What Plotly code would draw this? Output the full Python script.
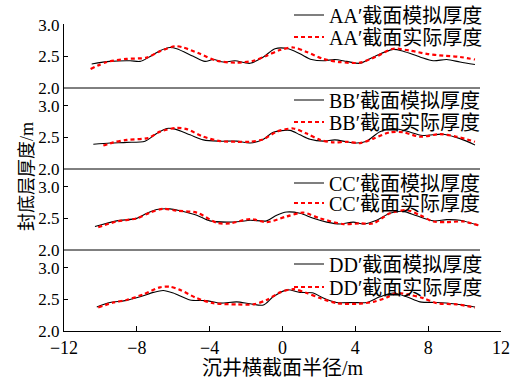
import plotly.graph_objects as go

# ---------------- data ----------------
sections = ["AA", "BB", "CC", "DD"]

x_sim_AA = [-10.48, -9.47, -8.37, -7.82, -7.37, -6.73, -6.18, -5.81, -4.90, -4.26, -3.80, -3.25, -2.61, -1.78,
            -1.05, -0.41, 0.32, 0.96, 1.60, 2.24, 2.88, 3.53, 4.26, 4.99, 6.08, 6.63, 7.55, 8.28, 9.02, 9.75, 10.57]
y_sim_AA = [2.38, 2.42, 2.43, 2.42, 2.48, 2.59, 2.64, 2.62, 2.50, 2.42, 2.45, 2.41, 2.43, 2.39,
            2.49, 2.62, 2.62, 2.54, 2.45, 2.43, 2.45, 2.42, 2.39, 2.49, 2.61, 2.58, 2.49, 2.43, 2.45, 2.41, 2.37]
x_act_AA = [-10.54, -9.65, -8.56, -7.46, -6.73, -5.90, -5.45, -4.53, -3.61, -2.52, -1.60, -0.87, -0.14, 0.59,
            1.33, 2.24, 3.16, 4.26, 5.17, 6.08, 7.00, 7.92, 8.83, 9.75, 10.57]
y_act_AA = [2.30, 2.41, 2.46, 2.48, 2.58, 2.66, 2.64, 2.54, 2.43, 2.40, 2.43, 2.51, 2.60, 2.64,
            2.57, 2.46, 2.41, 2.40, 2.50, 2.62, 2.59, 2.54, 2.51, 2.49, 2.45]

x_sim_BB = [-10.39, -9.47, -8.56, -7.55, -6.91, -6.36, -5.90, -5.08, -4.35, -3.43, -2.52, -1.78, -1.05, -0.51,
            0.41, 0.96, 1.51, 2.24, 2.88, 3.53, 4.07, 4.62, 5.35, 6.08, 6.79, 7.70, 8.83, 9.75, 10.57]
y_sim_BB = [2.39, 2.41, 2.42, 2.44, 2.56, 2.64, 2.63, 2.54, 2.46, 2.44, 2.44, 2.41, 2.47, 2.58,
            2.61, 2.54, 2.47, 2.44, 2.46, 2.43, 2.41, 2.44, 2.59, 2.64, 2.60, 2.53, 2.55, 2.48, 2.38]
x_act_BB = [-9.84, -9.29, -8.56, -7.37, -6.73, -5.81, -5.26, -4.35, -3.43, -2.52, -1.78, -1.05, -0.32, 0.59,
            1.33, 2.06, 2.79, 3.53, 4.26, 4.99, 5.90, 6.63, 7.55, 8.65, 9.57, 10.57]
y_act_BB = [2.37, 2.42, 2.46, 2.49, 2.59, 2.65, 2.63, 2.51, 2.44, 2.43, 2.43, 2.47, 2.59, 2.64,
            2.56, 2.46, 2.42, 2.43, 2.41, 2.48, 2.58, 2.58, 2.51, 2.55, 2.51, 2.43]

x_sim_CC = [-10.30, -9.11, -8.01, -7.46, -6.91, -6.18, -5.63, -4.71, -3.98, -3.07, -2.33, -1.78, -0.87, -0.32,
            0.23, 0.96, 1.69, 2.43, 3.16, 3.89, 4.44, 5.17, 5.90, 6.63, 7.37, 8.28, 9.02, 9.75, 10.75]
y_sim_CC = [2.37, 2.46, 2.50, 2.58, 2.64, 2.65, 2.62, 2.55, 2.46, 2.44, 2.45, 2.47, 2.46, 2.55,
            2.60, 2.58, 2.50, 2.44, 2.41, 2.44, 2.41, 2.47, 2.58, 2.61, 2.54, 2.46, 2.48, 2.47, 2.39]
x_act_CC = [-10.12, -9.11, -8.01, -7.28, -6.55, -5.81, -4.71, -3.61, -2.88, -1.78, -0.87, 0.23, 1.14, 2.06,
            3.34, 4.26, 4.99, 5.90, 6.82, 7.55, 8.28, 9.02, 9.93, 10.75]
y_act_CC = [2.36, 2.45, 2.50, 2.59, 2.65, 2.62, 2.59, 2.43, 2.42, 2.49, 2.44, 2.53, 2.59, 2.50,
            2.41, 2.42, 2.42, 2.58, 2.63, 2.55, 2.45, 2.44, 2.45, 2.39]

x_sim_DD = [-10.20, -9.47, -8.65, -7.82, -7.09, -6.55, -6.00, -5.08, -4.16, -3.43, -2.52, -1.78, -1.05, -0.51,
            0.23, 0.96, 1.69, 2.24, 2.97, 3.89, 4.62, 5.35, 6.08, 6.82, 7.55, 8.47, 9.38, 10.57]
y_sim_DD = [2.38, 2.45, 2.48, 2.54, 2.61, 2.64, 2.60, 2.49, 2.48, 2.44, 2.46, 2.43, 2.41, 2.54,
            2.65, 2.61, 2.60, 2.52, 2.45, 2.45, 2.45, 2.54, 2.60, 2.54, 2.46, 2.45, 2.43, 2.38]
x_act_DD = [-10.12, -9.29, -8.56, -7.64, -6.73, -6.18, -5.63, -4.71, -3.80, -2.52, -1.60, -0.87, -0.14, 0.59,
            1.33, 2.06, 2.97, 4.07, 4.99, 5.72, 6.27, 7.00, 7.73, 8.47, 9.57, 10.57]
y_act_DD = [2.37, 2.45, 2.49, 2.58, 2.69, 2.70, 2.65, 2.52, 2.44, 2.42, 2.42, 2.49, 2.61, 2.66,
            2.60, 2.52, 2.44, 2.43, 2.46, 2.53, 2.60, 2.57, 2.52, 2.44, 2.42, 2.37]

x_ticks = [-12, -8, -4, 0, 4, 8, 12]
y_ticks = [2.0, 2.5, 3.0]

sim_x = [x_sim_AA, x_sim_BB, x_sim_CC, x_sim_DD]
sim_y = [y_sim_AA, y_sim_BB, y_sim_CC, y_sim_DD]
act_x = [x_act_AA, x_act_BB, x_act_CC, x_act_DD]
act_y = [y_act_AA, y_act_BB, y_act_CC, y_act_DD]

# ---------------- layout geometry ----------------
W, H = 525, 379
ML, MR, MT, MB = 64, 24, 24, 48
PW, PH = W - ML - MR, H - MT - MB
PX_PER_UNIT = 63.3
PANEL_H = 81

FONT = "Liberation Serif, Noto Sans CJK SC, serif"

def py2paper(py):
    return (H - MB - py) / PH

def px2paper(px):
    return (px - ML) / PW

fig = go.Figure()

yaxes = ["y", "y2", "y3", "y4"]
legend_rows = [(15, 37), (100, 122), (183, 203), (264, 287)]
legend_x = 289

layout_extra = {}
for i, sec in enumerate(sections):
    ya = yaxes[i]
    lg_sim = "legend" if i == 0 else f"legend{2 * i + 1}"
    lg_act = f"legend{2 * i + 2}"
    fig.add_trace(go.Scatter(
        x=sim_x[i], y=sim_y[i], mode="lines", yaxis=ya, xaxis="x",
        line=dict(color="black", width=1.1, shape="spline", smoothing=0.8),
        name=f"{sec}′截面模拟厚度", legend=lg_sim))
    fig.add_trace(go.Scatter(
        x=act_x[i], y=act_y[i], mode="lines", yaxis=ya, xaxis="x",
        line=dict(color="#ff0000", width=2.2, dash="4px,3px", shape="spline", smoothing=0.8),
        name=f"{sec}′截面实际厚度", legend=lg_act))
    for lg, row in ((lg_sim, legend_rows[i][0]), (lg_act, legend_rows[i][1])):
        layout_extra[lg] = dict(
            x=px2paper(legend_x), y=py2paper(row), xanchor="left", yanchor="middle",
            bgcolor="rgba(0,0,0,0)", borderwidth=0, itemwidth=30,
            font=dict(family=FONT, size=20, color="black"),
            itemclick=False, itemdoubleclick=False)

# y-axes domains (top panel shorter: its axis stops at 3.0)
bottoms = [PANEL_H * 3, PANEL_H * 2, PANEL_H, 0]
for i, ya in enumerate(yaxes):
    key = "yaxis" if i == 0 else f"yaxis{i + 1}"
    b = bottoms[i]
    top = PH if i == 0 else b + PANEL_H
    layout_extra[key] = dict(
        domain=[b / PH, top / PH],
        range=[2.0, 2.0 + (top - b) / PX_PER_UNIT],
        anchor="x", showline=True, linecolor="black", linewidth=1,
        ticks="inside", ticklen=4, tickcolor="black",
        tickvals=y_ticks, tickformat=".1f",
        showgrid=False, zeroline=False,
        tickfont=dict(family=FONT, size=17, color="black"))

shapes = []
for i in range(3):
    yb = (bottoms[i]) / PH
    shapes.append(dict(type="line", xref="paper", yref="paper",
                       x0=0, x1=px2paper(480), y0=yb, y1=yb,
                       line=dict(color="black", width=1)))

fig.update_layout(
    width=W, height=H,
    margin=dict(l=ML, r=MR, t=MT, b=MB, autoexpand=False),
    paper_bgcolor="white", plot_bgcolor="white",
    font=dict(family=FONT, size=18, color="black"),
    showlegend=True,
    xaxis=dict(
        range=[-12, 12], anchor="y4", showline=True, linecolor="black", linewidth=1,
        ticks="inside", ticklen=5, tickcolor="black", tickvals=x_ticks,
        showgrid=False, zeroline=False,
        tickfont=dict(family=FONT, size=18, color="black"),
        title=dict(text="沉井横截面半径/m", font=dict(family=FONT, size=20), standoff=4)),
    shapes=shapes,
    annotations=[dict(text="封底层厚度/m", xref="paper", yref="paper",
                      x=px2paper(27), y=py2paper(177), textangle=-90,
                      showarrow=False, font=dict(family=FONT, size=18, color="black"),
                      xanchor="center", yanchor="middle")],
    **layout_extra,
)

fig.write_html("out.html",
               config={"displayModeBar": False},
               post_script="document.body.style.margin='0';document.body.style.padding='0';")
